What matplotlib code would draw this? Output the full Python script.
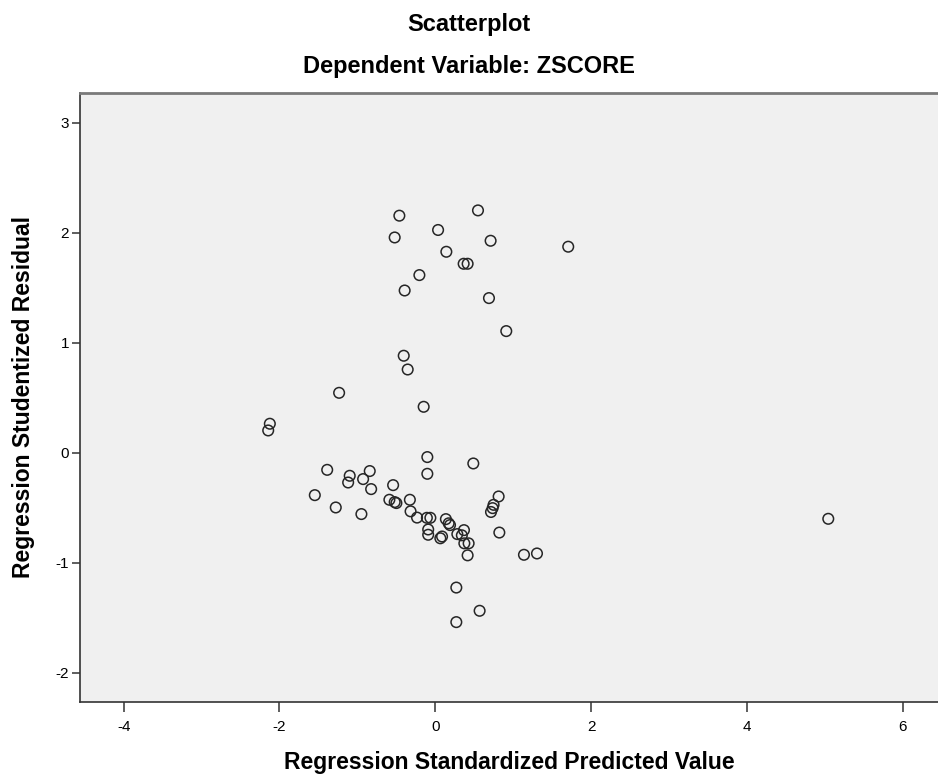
"""SPSS-style residual scatterplot: studentized residual vs standardized predicted value."""

import matplotlib

matplotlib.use("Agg")

import matplotlib.pyplot as plt  # noqa: E402

plt.rcParams["font.family"] = ["Liberation Sans", "DejaVu Sans"]

# values
predicted = [
    -0.462, 0.547, -0.522, 0.035, 0.709, 0.141, 1.705, 0.363, 0.414, -0.205,
    -0.394, 0.688, 0.910, -0.406, -0.355, -1.235, -0.150, -2.124, -2.145, -0.103,
    -0.103, 0.487, -1.388, -1.099, -1.119, -0.842, -0.927, -0.824, -0.542, -1.547,
    -1.278, -0.949, -0.590, -0.522, -0.500, -0.327, -0.318, -0.235, -0.109, -0.064,
    -0.092, -0.092, 0.135, 0.171, 0.188, 0.064, 0.086, 0.367, 0.282, 0.340,
    0.372, 0.427, 0.414, 0.812, 0.747, 0.735, 0.714, 0.821, 1.137, 1.304,
    0.269, 0.568, 0.269, 5.042,
]
residual = [
    2.155, 2.203, 1.957, 2.025, 1.927, 1.827, 1.873, 1.718, 1.718, 1.615,
    1.475, 1.406, 1.106, 0.882, 0.757, 0.545, 0.418, 0.264, 0.203, -0.039,
    -0.191, -0.097, -0.155, -0.209, -0.270, -0.166, -0.239, -0.330, -0.294, -0.385,
    -0.497, -0.557, -0.427, -0.448, -0.457, -0.427, -0.532, -0.589, -0.591, -0.591,
    -0.697, -0.745, -0.603, -0.641, -0.657, -0.777, -0.761, -0.703, -0.739, -0.750,
    -0.823, -0.823, -0.932, -0.397, -0.473, -0.503, -0.538, -0.725, -0.927, -0.915,
    -1.225, -1.436, -1.539, -0.600,
]
x_ticks = [-4, -2, 0, 2, 4, 6]
y_ticks = [-2, -1, 0, 1, 2, 3]

fig = plt.figure(figsize=(9.38, 7.82), dpi=100)
ax = fig.add_axes([80 / 938, 1 - 702 / 782, 1 - 80 / 938, (702 - 93) / 782])
ax.set_facecolor("#f0f0f0")

ax.scatter(
    predicted, residual, s=58, facecolors="none", edgecolors="#262626",
    linewidths=1.1, zorder=3,
)

ax.set_xlim(-4.56, 6.45)
ax.set_ylim(-2.265, 3.27)
ax.set_xticks(x_ticks)
ax.set_yticks(y_ticks)
ax.set_xticklabels([str(t) for t in x_ticks])
ax.set_yticklabels([str(t) for t in y_ticks])
ax.tick_params(axis="x", direction="out", length=7, width=1.1,
               color="#333333", labelsize=11, pad=6)
ax.tick_params(axis="y", direction="out", length=6, width=1.1,
               color="#333333", labelsize=11, pad=2)

ax.spines["right"].set_visible(False)
ax.spines["top"].set_color("#7a7a7a")
ax.spines["top"].set_linewidth(2.0)
for side in ("left", "bottom"):
    ax.spines[side].set_color("#333333")
    ax.spines[side].set_linewidth(1.2)

fig.text(0.5, 1 - 24 / 782, "Scatterplot", ha="center", va="center",
         fontsize=17, fontweight="bold")
fig.text(0.5, 1 - 67 / 782, "Dependent Variable: ZSCORE", ha="center",
         va="center", fontsize=17, fontweight="bold")
fig.text(509 / 938, 1 - 763 / 782, "Regression Standardized Predicted Value",
         ha="center", va="center", fontsize=16.5, fontweight="bold")
fig.text(24 / 938, 1 - 397 / 782, "Regression Studentized Residual",
         ha="center", va="center", rotation=90, fontsize=16.5,
         fontweight="bold")

fig.savefig("out.png", dpi=100)
plt.close(fig)
